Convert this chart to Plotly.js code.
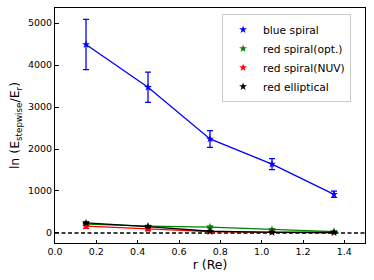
<!DOCTYPE html>
<html>
<head>
<meta charset="utf-8">
<script src="https://cdn.plot.ly/plotly-3.0.1.min.js"></script>
<style>html,body{margin:0;padding:0;background:#fff;}#chart{width:374px;height:280px;}</style>
</head>
<body>
<div id="chart"></div>
<script>
const r = [0.15, 0.45, 0.75, 1.05, 1.35];
const blueSpiral = [4490, 3470, 2240, 1640, 920];
const blueErr = [600, 360, 200, 130, 75];
const redSpiralOpt = [210, 160, 140, 80, 30];
const redSpiralOptErr = [25, 20, 20, 15, 10];
const redSpiralNUV = [160, 95, 30, 20, 10];
const redSpiralNUVErr = [50, 40, 20, 10, 8];
const redElliptical = [240, 150, 40, 15, 10];
const redEllipticalErr = [20, 15, 10, 8, 6];
const names = ['blue spiral', 'red spiral(opt.)', 'red spiral(NUV)', 'red elliptical'];
const colors = ['#0000ff', '#008000', '#ff0000', '#000000'];

const series = [
  [redSpiralOpt, redSpiralOptErr, 1],
  [redSpiralNUV, redSpiralNUVErr, 2],
  [redElliptical, redEllipticalErr, 3],
  [blueSpiral, blueErr, 0]
];

const traces = [];
// dashed zero line
traces.push({x: [0, 1.5], y: [0, 0], mode: 'lines', line: {color: '#000', dash: '4px,2.5px', width: 1.4}, showlegend: false, hoverinfo: 'skip'});
series.forEach(([vals, errs, i]) => {
  traces.push({
    x: r, y: vals, mode: 'lines+markers', showlegend: false,
    line: {color: colors[i], width: 1.3},
    marker: {symbol: 'star', size: 6, color: colors[i]},
    error_y: {type: 'data', array: errs, visible: true, color: colors[i], thickness: 1.3, width: 3}
  });
});
names.forEach((n, i) => {
  traces.push({x: [null], y: [null], mode: 'markers', name: n,
    marker: {symbol: 'star', size: 6, color: colors[i]}});
});

const layout = {
  width: 374, height: 280,
  margin: {l: 55, r: 9, t: 8, b: 37},
  paper_bgcolor: '#fff', plot_bgcolor: '#fff',
  font: {family: 'DejaVu Sans', size: 9.5, color: '#000'},
  xaxis: {
    range: [0, 1.5], tickvals: [0, 0.2, 0.4, 0.6, 0.8, 1.0, 1.2, 1.4],
    ticktext: ['0.0', '0.2', '0.4', '0.6', '0.8', '1.0', '1.2', '1.4'],
    ticks: 'inside', ticklen: 3.5, tickcolor: '#000', showgrid: false, zeroline: false,
    showline: true, linecolor: '#000', linewidth: 1, mirror: true,
    title: {text: 'r (Re)', font: {size: 12.5}, standoff: 3}
  },
  yaxis: {
    range: [-240, 5360], tickvals: [0, 1000, 2000, 3000, 4000, 5000],
    ticks: 'inside', ticklen: 3.5, tickcolor: '#000', showgrid: false, zeroline: false,
    showline: true, linecolor: '#000', linewidth: 1, mirror: true,
    title: {text: 'ln (E<sub>stepwise</sub>/E<sub>r</sub>)', font: {size: 12.5}, standoff: 5}
  },
  legend: {
    x: 0.539, y: 0.974, xanchor: 'left', yanchor: 'top',
    bgcolor: '#fff', bordercolor: '#ccc', borderwidth: 1,
    font: {size: 10.7}, tracegroupgap: 0
  },
  showlegend: true
};
Plotly.newPlot('chart', traces, layout, {displayModeBar: false, staticPlot: true});
</script>
</body>
</html>
